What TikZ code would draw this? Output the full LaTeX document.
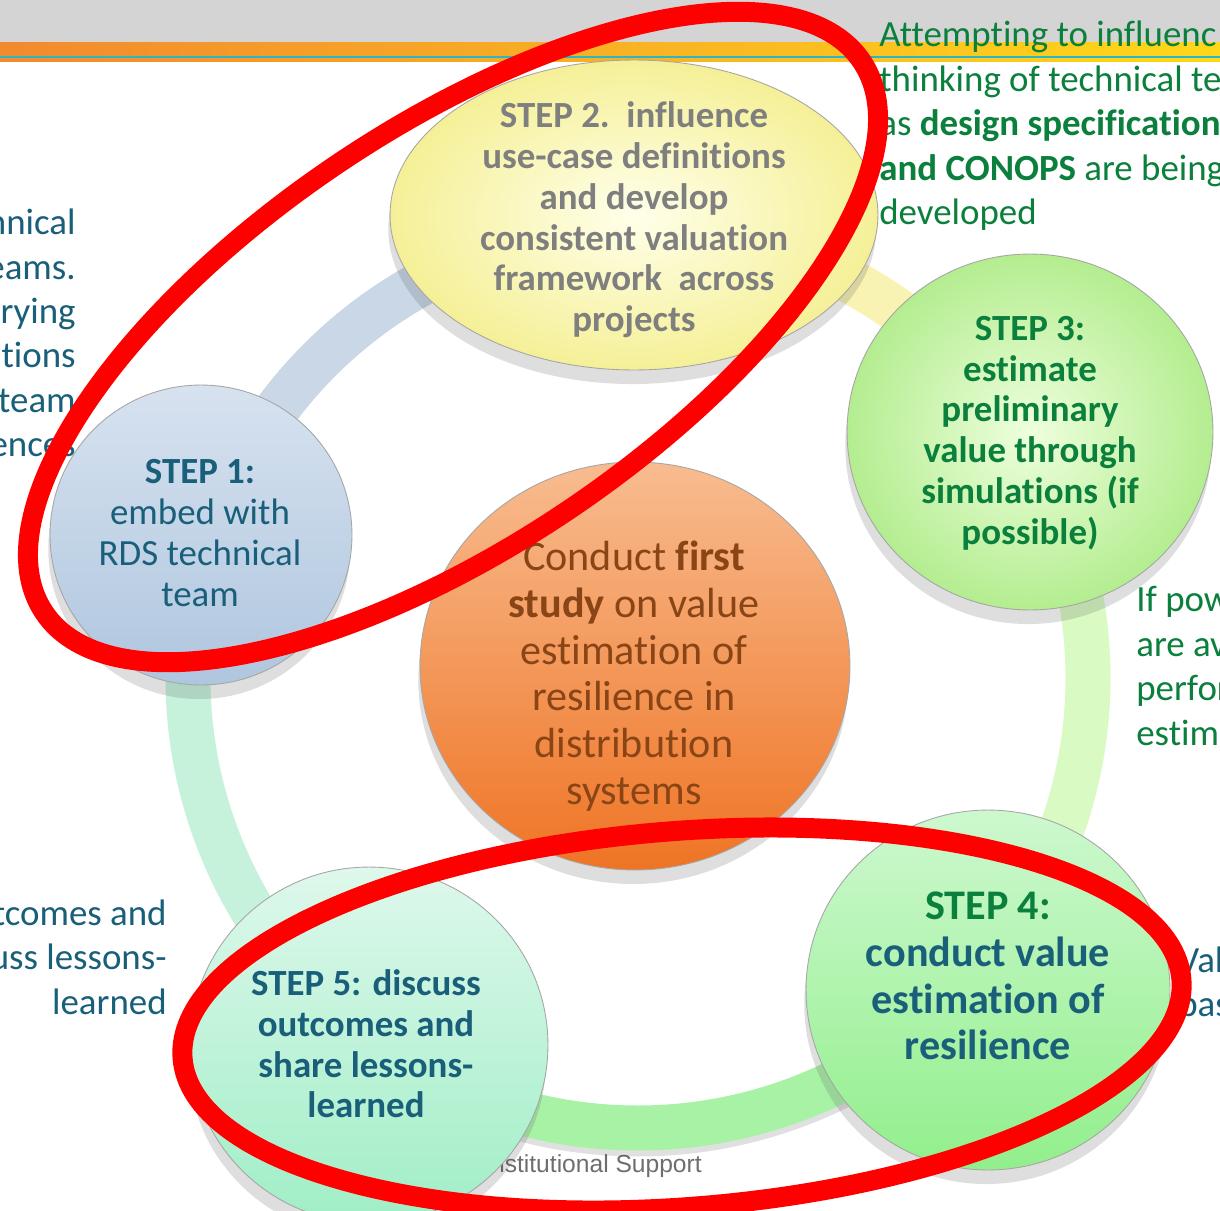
\documentclass[tikz,border=0pt]{standalone}
\usepackage{fontspec}
\setmainfont{Carlito}[Ligatures=NoCommon, Contextuals=NoAlternate, RawFeature={-liga;-clig;-calt;-dlig}]
\newfontfamily\arialfont{Liberation Sans}
\usetikzlibrary{shapes.geometric,shadows,calc}
\definecolor{tealtxt}{HTML}{1A5F7A}
\definecolor{greentxt}{HTML}{0B7F3C}
\definecolor{graytxt}{HTML}{7F7F7F}
\definecolor{browntxt}{HTML}{8A4516}
\definecolor{footgray}{HTML}{6E6E6E}
\definecolor{bandgray}{HTML}{D4D4D4}
\definecolor{bandor}{HTML}{F28A2E}
\definecolor{bandye}{HTML}{FFD81A}
\definecolor{bandteal}{HTML}{2BB5C8}
\definecolor{ringblue}{HTML}{C9D7E7}
\definecolor{ringyellow}{HTML}{F8F3B2}
\definecolor{ringlgreen}{HTML}{D9FAC2}
\definecolor{ringgreen}{HTML}{A8F2A6}
\definecolor{ringmint}{HTML}{C6F2DB}
\definecolor{redmark}{HTML}{FF0000}
\definecolor{sAt}{HTML}{D7E2EF}\definecolor{sAb}{HTML}{AFC6DF}
\definecolor{sBi}{HTML}{FFFFEA}\definecolor{sBo}{HTML}{F5F097}
\definecolor{sCi}{HTML}{EEFFDD}\definecolor{sCo}{HTML}{B4ED90}
\definecolor{sMt}{HTML}{F8BC90}\definecolor{sMm}{HTML}{F39450}\definecolor{sMb}{HTML}{EF7424}
\definecolor{sDt}{HTML}{CDF8CF}\definecolor{sDb}{HTML}{92EF8C}
\definecolor{sEt}{HTML}{DEF8EC}\definecolor{sEb}{HTML}{A0EEC6}
\tikzset{
  stepnode/.style={ellipse, inner sep=0pt, draw=black!35, line width=0.5pt,
    drop shadow={shadow xshift=-1pt, shadow yshift=-8pt, opacity=0.18, fill=black!70}},
  steptxt/.style={align=center, inner sep=0pt, font=\fontsize{21}{23.2}\selectfont},
  bigtxt/.style={align=center, inner sep=0pt, font=\fontsize{24}{26.6}\selectfont},
  sidetxt/.style={inner sep=0pt, font=\fontsize{21}{25.3}\selectfont},
  ringseg/.style={line width=0.9cm},
  redmarkstyle/.style={draw=redmark, line width=0.4cm}
}
\begin{document}
\begin{tikzpicture}[x=0.02cm,y=-0.02cm]
\useasboundingbox (0,0) rectangle (1220,1210);
\begin{scope}
\clip (0,0) rectangle (1220,1210);
\fill[white] (0,0) rectangle (1220,1210);
% header band
\fill[bandgray] (0,0) rectangle (1220,42);
\shade[left color=bandor, right color=bandye] (0,42) rectangle (1220,56);
\fill[bandteal] (0,56) rectangle (1220,58.5);
\shade[left color=bandor, right color=bandye] (0,58.5) rectangle (1220,61);

% footer text (beneath step 5)
\node[inner sep=0pt, text=footgray, font=\arialfont\fontsize{14}{16}\selectfont] (foot) at (593,1166) {Institutional Support};

% ring
\coordinate (rc) at (638,678);
\draw[ringseg, black, opacity=0.12] ($(rc)+(0,6)+(127:450)$) arc[start angle=127, end angle=42, radius=450];
\draw[ringseg, ringblue] ($(rc)+(-90:450)$) arc[start angle=-90, end angle=-162, radius=450];
\draw[ringseg, ringyellow] ($(rc)+(-30:450)$) arc[start angle=-30, end angle=-92, radius=450];
\draw[ringseg, ringlgreen] ($(rc)+(44:450)$) arc[start angle=44, end angle=-32, radius=450];
\draw[ringseg, ringgreen] ($(rc)+(129:450)$) arc[start angle=129, end angle=40, radius=450];
\draw[ringseg, ringmint] ($(rc)+(-160:450)$) arc[start angle=-160, end angle=-235, radius=450];

% nodes
\node[stepnode, top color=sAt, bottom color=sAb, minimum width=6.04cm, minimum height=6.0cm] (s1) at (201,535) {};
\node[stepnode, inner color=sBi, outer color=sBo, minimum width=9.76cm, minimum height=6.2cm] (s2) at (634,215) {};
\node[stepnode, inner color=sCi, outer color=sCo, minimum width=7.32cm, minimum height=7.12cm] (s3) at (1030,432) {};
\node[stepnode, top color=sMt, middle color=sMm, bottom color=sMb, minimum width=8.6cm, minimum height=8.16cm] (sc) at (635,666) {};
\node[stepnode, top color=sDt, bottom color=sDb, minimum width=7.28cm, minimum height=7.2cm] (s4) at (988,990) {};
\node[stepnode, top color=sEt, bottom color=sEb, minimum width=7.16cm, minimum height=7.12cm] (s5) at (369,1045) {};

% node texts
\node[steptxt, text=tealtxt] (t1) at (200,533) {\textbf{STEP 1:}\\embed with\\RDS technical\\team};
\node[steptxt, text=graytxt, font=\fontsize{21}{23.2}\selectfont\bfseries] (t2) at (634,220)
  {STEP 2.\ \ influence\\use-case definitions\\and develop\\consistent valuation\\framework\ \ across\\projects};
\node[steptxt, text=greentxt, font=\fontsize{21}{23.2}\selectfont\bfseries] (t3) at (1030,433)
  {STEP 3:\\estimate\\preliminary\\value through\\simulations (if\\possible)};
\node[bigtxt, text=browntxt] (tc) at (634,676)
  {Conduct \textbf{first}\\\textbf{study} on value\\estimation of\\resilience in\\distribution\\systems};
\node[bigtxt, text=tealtxt, font=\fontsize{24}{26.6}\selectfont\bfseries] (t4) at (988,976)
  {\textcolor{greentxt}{STEP 4:}\\conduct value\\estimation of\\resilience};
\node[steptxt, text=tealtxt, font=\fontsize{21}{23.2}\selectfont\bfseries] (t5) at (366,1044)
  {STEP 5: discuss\\outcomes and\\share lessons-\\learned};

% side texts (cut off by the frame, as in the slide crop)
\node[sidetxt, text=greentxt, align=left, anchor=west] (tr) at (879,126)
  {Attempting to influenc\\thinking of technical te\\as \textbf{design specification}\\\textbf{and CONOPS} are being\\developed};
\node[sidetxt, text=tealtxt, align=right, anchor=east] (tl) at (76,333)
  {hnical\\eams.\\rying\\tions\\team\\ences};
\node[sidetxt, text=tealtxt, align=right, anchor=east] (bl) at (167,957)
  {tcomes and\\uss lessons-\\learned};
\node[sidetxt, text=greentxt, align=left, anchor=west] (rm) at (1136,666)
  {If pow\\are av\\perfor\\estim};
\node[sidetxt, text=tealtxt, align=left, anchor=west] (rb) at (1178,982)
  {Val\\bas};

% red hand-drawn marks
\draw[redmarkstyle, rotate around={34:(453,337)}] (453,337) ellipse [x radius=493, y radius=208];
\draw[redmarkstyle, rotate around={4.5:(682,1019)}] (682,1019) ellipse [x radius=501, y radius=188];
\end{scope}
\end{tikzpicture}
\end{document}
